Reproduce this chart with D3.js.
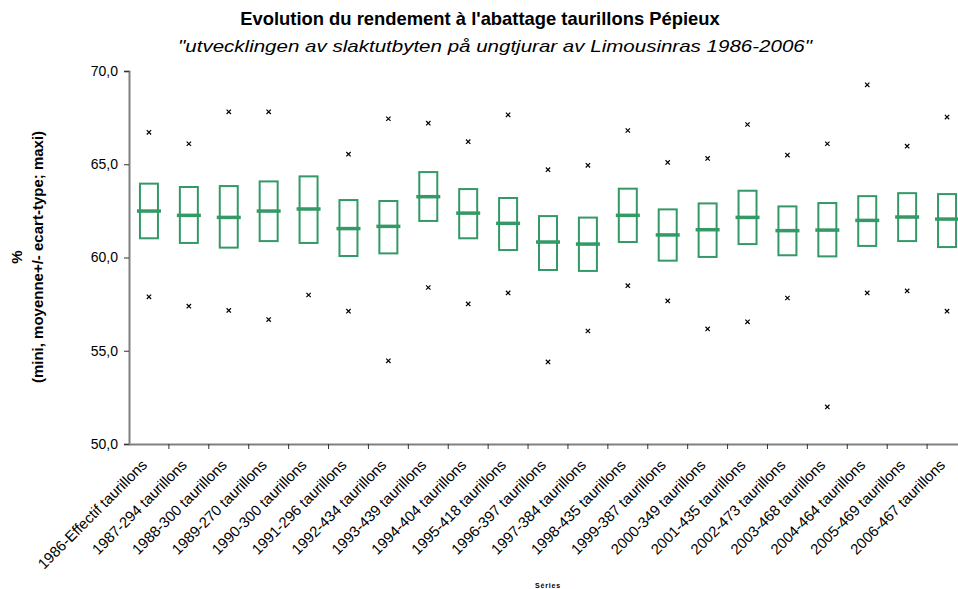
<!DOCTYPE html>
<html>
<head>
<meta charset="utf-8">
<script src="https://cdn.jsdelivr.net/npm/d3@7"></script>
<style>
  html, body { margin: 0; padding: 0; background: #fff; }
  svg { display: block; font-family: "Liberation Sans", Arial, sans-serif; }
</style>
</head>
<body>
<svg id="chart" width="958" height="589"></svg>
<script>
const categories = [
  "1986-Effectif taurillons", "1987-294 taurillons", "1988-300 taurillons", "1989-270 taurillons",
  "1990-300 taurillons", "1991-296 taurillons", "1992-434 taurillons", "1993-439 taurillons",
  "1994-404 taurillons", "1995-418 taurillons", "1996-397 taurillons", "1997-384 taurillons",
  "1998-435 taurillons", "1999-387 taurillons", "2000-349 taurillons", "2001-435 taurillons",
  "2002-473 taurillons", "2003-468 taurillons", "2004-464 taurillons", "2005-469 taurillons",
  "2006-467 taurillons"
];
const meanPlusSd  = [63.96, 63.78, 63.83, 64.08, 64.35, 63.08, 63.03, 64.58, 63.67, 63.19, 62.22, 62.14, 63.69, 62.58, 62.90, 63.58, 62.74, 62.92, 63.29, 63.45, 63.40];
const meanValues  = [62.49, 62.26, 62.15, 62.49, 62.60, 61.55, 61.67, 63.26, 62.38, 61.83, 60.83, 60.72, 62.26, 61.21, 61.49, 62.15, 61.44, 61.47, 61.99, 62.17, 62.06];
const meanMinusSd = [61.03, 60.78, 60.53, 60.88, 60.78, 60.08, 60.22, 61.96, 61.03, 60.40, 59.33, 59.28, 60.83, 59.83, 60.03, 60.72, 60.12, 60.06, 60.62, 60.88, 60.56];
const maxValues   = [66.71, 66.10, 67.81, 67.81, null, 65.54, 67.44, 67.20, 66.21, 67.65, 64.71, 64.94, 66.81, 65.10, 65.31, 67.13, 65.49, 66.10, 69.26, 65.97, 67.53];
const minValues   = [57.89, 57.39, 57.16, 56.67, 57.99, 57.12, 54.46, 58.39, 57.51, 58.10, 54.40, 56.06, 58.49, 57.67, 56.17, 56.55, 57.83, 51.99, 58.10, 58.21, 57.12];
const yTicks = [50, 55, 60, 65, 70];

const titleText = "Evolution du rendement à l'abattage taurillons Pépieux";
const subtitleText = "\"utvecklingen av slaktutbyten på ungtjurar av Limousinras 1986-2006\"";
const yTitle1 = "%";
const yTitle2 = "(mini, moyenne+/- ecart-type; maxi)";
const xTitle = "Séries";

const svg = d3.select("#chart");
const margin = { left: 129, right: -9, top: 71, bottom: 145 };
const W = 958, H = 589;
const green = "#339966";

const x = d3.scaleBand().domain(categories).range([margin.left, W - margin.right]).padding(0);
const y = d3.scaleLinear().domain([50, 70]).range([H - margin.bottom, margin.top]);

const data = categories.map((c, i) => ({
  c, hi: meanPlusSd[i], mean: meanValues[i], lo: meanMinusSd[i], max: maxValues[i], min: minValues[i]
}));

// Titles
svg.append("text").attr("x", 480).attr("y", 25).attr("text-anchor", "middle")
  .attr("font-size", 18.4).attr("font-weight", "bold").text(titleText);
svg.append("text").attr("x", 495).attr("y", 52).attr("text-anchor", "middle")
  .attr("font-size", 17).attr("font-style", "italic")
  .attr("textLength", 634).attr("lengthAdjust", "spacingAndGlyphs").text(subtitleText);

// Y axis
const yAxis = svg.append("g").attr("transform", `translate(${margin.left},0)`)
  .call(d3.axisLeft(y).tickValues(yTicks).tickSize(5).tickPadding(6)
    .tickFormat(d => d3.format(".1f")(d).replace(".", ",")));
yAxis.select(".domain").attr("stroke", "#808080").attr("stroke-width", 2);
yAxis.selectAll(".tick line").attr("stroke", "#333").attr("stroke-width", 1);
yAxis.selectAll(".tick text").attr("font-size", 14).attr("fill", "#000")
  .attr("font-family", "Liberation Sans, Arial, sans-serif");

// X axis
const xAxis = svg.append("g").attr("transform", `translate(0,${H - margin.bottom})`)
  .call(d3.axisBottom(x).tickSize(0).tickFormat(""));
xAxis.select(".domain").attr("stroke", "#808080").attr("stroke-width", 2);
// tick marks at category boundaries
xAxis.selectAll(".bnd").data(categories.slice(1)).join("line")
  .attr("class", "bnd")
  .attr("x1", d => x(d)).attr("x2", d => x(d))
  .attr("y1", 0).attr("y2", 5).attr("stroke", "#333").attr("stroke-width", 1);
xAxis.selectAll(".lbl").data(categories).join("text")
  .attr("class", "lbl")
  .attr("transform", d => `translate(${x(d) + x.bandwidth() / 2 - 1},${22}) rotate(-45)`)
  .attr("text-anchor", "end")
  .attr("font-size", 14.9)
  .attr("fill", "#000")
  .text(d => d);

// Axis titles
svg.append("text")
  .attr("transform", `translate(22,257) rotate(-90)`)
  .attr("text-anchor", "middle").attr("font-size", 15).attr("font-weight", "bold").text(yTitle1);
svg.append("text")
  .attr("transform", `translate(43,257) rotate(-90)`)
  .attr("text-anchor", "middle").attr("font-size", 15).attr("font-weight", "bold").text(yTitle2);
svg.append("text").attr("x", 548).attr("y", 588).attr("text-anchor", "middle")
  .attr("font-size", 7).attr("font-weight", "bold").attr("letter-spacing", 0.8).text(xTitle);

// Boxes
const boxW = 18, barW = 24;
const g = svg.append("g");
g.selectAll("rect.box").data(data).join("rect")
  .attr("class", "box")
  .attr("x", d => x(d.c) + x.bandwidth() / 2 - boxW / 2)
  .attr("y", d => y(d.hi))
  .attr("width", boxW)
  .attr("height", d => y(d.lo) - y(d.hi))
  .attr("fill", "none").attr("stroke", green).attr("stroke-width", 2);
g.selectAll("line.mean").data(data).join("line")
  .attr("class", "mean")
  .attr("x1", d => x(d.c) + x.bandwidth() / 2 - barW / 2)
  .attr("x2", d => x(d.c) + x.bandwidth() / 2 + barW / 2)
  .attr("y1", d => y(d.mean)).attr("y2", d => y(d.mean))
  .attr("stroke", green).attr("stroke-width", 3.5);

// Min / max crosses
const cross = d3.symbol().type(d3.symbolX).size(14);
const pts = [];
data.forEach(d => {
  if (d.max != null) pts.push({ c: d.c, v: d.max });
  if (d.min != null) pts.push({ c: d.c, v: d.min });
});
g.selectAll("path.pt").data(pts).join("path")
  .attr("class", "pt")
  .attr("transform", d => `translate(${x(d.c) + x.bandwidth() / 2},${y(d.v)})`)
  .attr("d", cross)
  .attr("fill", "none").attr("stroke", "#000").attr("stroke-width", 1.2);
</script>
</body>
</html>
